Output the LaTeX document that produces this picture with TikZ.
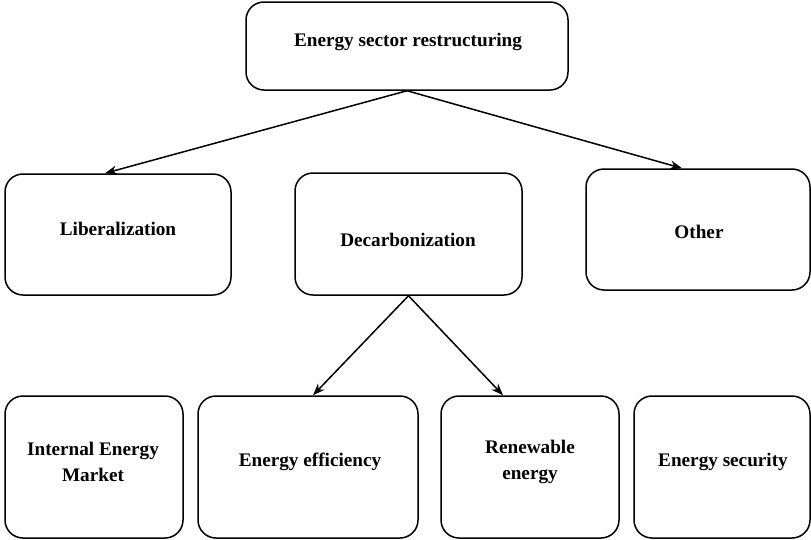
\documentclass[tikz,border=0pt]{standalone}
\usepackage{fontspec}
\setmainfont{Liberation Serif}
\usetikzlibrary{arrows.meta}
\begin{document}
\begin{tikzpicture}[x=1pt,y=-1pt,
  box/.style={draw=black, line width=1.5pt, rounded corners=18pt, fill=white, inner sep=0pt},
  lbl/.style={font=\fontsize{19.2}{26}\selectfont\bfseries, align=center, inner sep=0pt},
  arr/.style={line width=1.5pt, -{Stealth[length=12pt,width=9pt]}}]
\useasboundingbox (0,0) rectangle (811,539);
% boxes
\node[box, minimum width=322pt, minimum height=88pt] (top) at (407,46) {};
\node[box, minimum width=226pt, minimum height=121pt] (lib) at (118,234.5) {};
\node[box, minimum width=227pt, minimum height=122pt] (dec) at (408.5,234) {};
\node[box, minimum width=224pt, minimum height=121pt] (oth) at (698,229.5) {};
\node[box, minimum width=178pt, minimum height=142pt] (ime) at (94,467) {};
\node[box, minimum width=220pt, minimum height=142pt] (eff) at (308,467) {};
\node[box, minimum width=178pt, minimum height=142pt] (ren) at (530,467) {};
\node[box, minimum width=176pt, minimum height=142pt] (sec) at (722,467) {};
% labels
\node[lbl] (ttop) at (408,42) {Energy sector restructuring};
\node[lbl] (tlib) at (118,229) {Liberalization};
\node[lbl] (tdec) at (408,240) {Decarbonization};
\node[lbl] (toth) at (699,232) {Other};
\node[lbl] (time) at (93,462) {Internal Energy\\Market};
\node[lbl] (teff) at (310,462) {Energy efficiency};
\node[lbl] (tren) at (530,462) {Renewable\\energy};
\node[lbl] (tsec) at (723,462) {Energy security};
% connectors
\draw[arr] (top.south) -- ([xshift=-13pt]lib.north);
\draw[arr] (top.south) -- ([xshift=-16pt]oth.north);
\draw[arr] (dec.south) -- ([xshift=5pt]eff.north);
\draw[arr] (dec.south) -- ([xshift=-27pt]ren.north);
\end{tikzpicture}
\end{document}
